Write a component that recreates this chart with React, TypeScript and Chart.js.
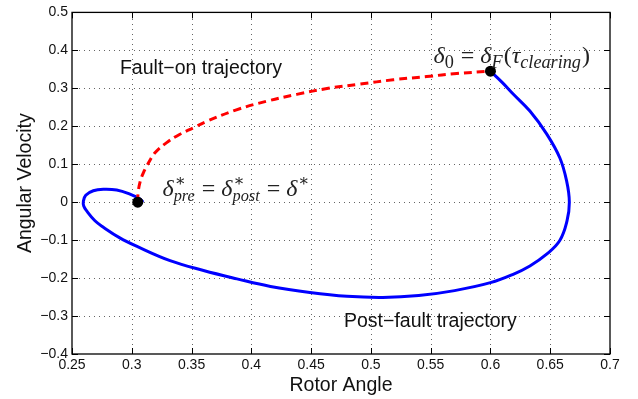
import React, { useEffect, useRef } from 'react';
import { Chart, registerables } from 'chart.js';

Chart.register(...registerables);

// ---- data ----
const faultOnAngle = [0.305, 0.3053, 0.307, 0.3095, 0.3125, 0.3194, 0.3292, 0.3403, 0.3515, 0.3612, 0.3863, 0.4128, 0.438, 0.4644, 0.4909, 0.5187, 0.5467, 0.5718, 0.6];
const faultOnSpeed = [0.0, 0.025, 0.054, 0.076, 0.095, 0.13, 0.157, 0.179, 0.196, 0.211, 0.242, 0.266, 0.284, 0.3, 0.311, 0.3225, 0.331, 0.339, 0.345];

const postFaultAngle = [0.6, 0.61, 0.619, 0.633, 0.647, 0.658, 0.6637, 0.666, 0.664, 0.658, 0.647, 0.633, 0.619, 0.6, 0.57, 0.54, 0.51, 0.48, 0.449, 0.416, 0.388, 0.36, 0.332, 0.304, 0.29, 0.2762, 0.2692, 0.2623, 0.2598, 0.2595, 0.2615, 0.2678, 0.2762, 0.2874, 0.2985, 0.3069, 0.3096];
const postFaultSpeed = [0.345, 0.315, 0.285, 0.24, 0.18, 0.117, 0.056, 0.0, -0.05, -0.101, -0.137, -0.168, -0.19, -0.212, -0.233, -0.246, -0.251, -0.248, -0.238, -0.222, -0.202, -0.18, -0.154, -0.116, -0.094, -0.066, -0.049, -0.023, -0.01, 0.002, 0.018, 0.03, 0.034, 0.032, 0.021, 0.008, 0.0];

const markerAngle = [0.305, 0.6];
const markerSpeed = [0.0, 0.345];

const xTickValues = [0.25, 0.3, 0.35, 0.4, 0.45, 0.5, 0.55, 0.6, 0.65, 0.7];
const yTickValues = [-0.4, -0.3, -0.2, -0.1, 0, 0.1, 0.2, 0.3, 0.4, 0.5];

const xTitle = 'Rotor Angle';
const yTitle = 'Angular Velocity';

// plain text annotations: [text, x, y] in data units (left edge, vertical middle)
const textNotes: [string, number, number][] = [
  ['Fault\u2212on trajectory', 0.2901, 0.353],
  ['Post\u2212fault trajectory', 0.4775, -0.316],
];

type MathPart = { t: string; up?: boolean; sup?: string; sub?: string; subUp?: boolean };
const mathPre: MathPart[] = [
  { t: '\u03b4', sup: '\u2217', sub: 'pre' },
  { t: ' = ', up: true },
  { t: '\u03b4', sup: '\u2217', sub: 'post' },
  { t: ' = ', up: true },
  { t: '\u03b4', sup: '\u2217' },
];
const mathClear: MathPart[] = [
  { t: '\u03b4', sub: '0', subUp: true },
  { t: ' = ', up: true },
  { t: '\u03b4', sub: 'F' },
  { t: '(', up: true },
  { t: '\u03c4', sub: 'clearing' },
  { t: ')', up: true },
];
// math annotations: [parts, x, baseline y, script scale] in data units
const mathNotes: [MathPart[], number, number, number][] = [
  [mathPre, 0.3257, 0.0168, 0.68],
  [mathClear, 0.5524, 0.3663, 0.76],
];

const SANS = '"Liberation Sans", Arial, Helvetica, sans-serif';
const SERIF = '"Liberation Serif", "DejaVu Serif", serif';

function fmt(v: number): string {
  const s = String(Number(v.toFixed(2)));
  return s.replace('-', '\u2212');
}

function drawMath(ctx: CanvasRenderingContext2D, x: number, y: number, parts: MathPart[], size: number, scriptScale: number) {
  const small = size * scriptScale;
  let cx = x;
  ctx.textBaseline = 'alphabetic';
  ctx.textAlign = 'left';
  for (const p of parts) {
    ctx.font = `${p.up ? '' : 'italic '}${size}px ${SERIF}`;
    ctx.fillText(p.t, cx, y);
    cx += ctx.measureText(p.t).width;
    let w = 0;
    if (p.sup) {
      ctx.font = `${small}px "DejaVu Serif", serif`;
      ctx.fillText(p.sup, cx + 1, y - size * 0.42);
      w = Math.max(w, ctx.measureText(p.sup).width + 1);
    }
    if (p.sub) {
      ctx.font = `${p.subUp ? '' : 'italic '}${small}px ${SERIF}`;
      ctx.fillText(p.sub, cx, y + size * 0.22);
      w = Math.max(w, ctx.measureText(p.sub).width);
    }
    cx += w + (p.sub || p.sup ? 1 : 0);
  }
}

const gridPlugin = {
  id: 'dottedGrid',
  beforeDatasetsDraw(chart: any) {
    const { ctx, chartArea: a, scales } = chart;
    ctx.save();
    ctx.fillStyle = '#666';
    const step = 5;
    for (const v of xTickValues) {
      const px = Math.round(scales.x.getPixelForValue(v));
      if (px <= a.left + 1 || px >= a.right - 1) continue;
      for (let y = Math.round(a.top) + 2; y < a.bottom - 1; y += step) ctx.fillRect(px, y, 1, 1);
    }
    for (const v of yTickValues) {
      const py = Math.round(scales.y.getPixelForValue(v));
      if (py <= a.top + 1 || py >= a.bottom - 1) continue;
      for (let x = Math.round(a.left) + 2; x < a.right - 1; x += step) ctx.fillRect(x, py, 1, 1);
    }
    ctx.restore();
  },
};

const decorPlugin = {
  id: 'decor',
  afterDraw(chart: any) {
    const { ctx, chartArea: a, scales } = chart;
    const xs = scales.x;
    const ys = scales.y;
    ctx.save();
    ctx.strokeStyle = '#000';
    ctx.lineWidth = 1.3;
    ctx.setLineDash([]);
    ctx.strokeRect(a.left, a.top, a.right - a.left, a.bottom - a.top);
    const tl = 6;
    ctx.lineWidth = 1;
    ctx.beginPath();
    for (const v of xTickValues) {
      const px = Math.round(xs.getPixelForValue(v)) + 0.5;
      ctx.moveTo(px, a.bottom);
      ctx.lineTo(px, a.bottom - tl);
      ctx.moveTo(px, a.top);
      ctx.lineTo(px, a.top + tl);
    }
    for (const v of yTickValues) {
      const py = Math.round(ys.getPixelForValue(v)) + 0.5;
      ctx.moveTo(a.left, py);
      ctx.lineTo(a.left + tl, py);
      ctx.moveTo(a.right, py);
      ctx.lineTo(a.right - tl, py);
    }
    ctx.stroke();
    ctx.fillStyle = '#111';
    ctx.font = `19.5px ${SANS}`;
    ctx.textAlign = 'left';
    ctx.textBaseline = 'middle';
    for (const [t, x, y] of textNotes) {
      ctx.fillText(t, xs.getPixelForValue(x), ys.getPixelForValue(y));
    }
    ctx.fillStyle = '#222';
    for (const [parts, x, y, sc] of mathNotes) {
      drawMath(ctx, xs.getPixelForValue(x), ys.getPixelForValue(y), parts, 24, sc);
    }
    ctx.restore();
  },
};

export default function App() {
  const ref = useRef<HTMLCanvasElement | null>(null);
  useEffect(() => {
    document.body.style.margin = '0';
    const canvas = ref.current;
    if (!canvas) return;
    const chart = new Chart(canvas, {
      type: 'scatter',
      data: {
        datasets: [
          {
            label: 'markers',
            data: markerAngle.map((x, i) => ({ x, y: markerSpeed[i] })),
            showLine: false,
            pointRadius: 5.5,
            pointBackgroundColor: '#000',
            pointBorderColor: '#000',
            pointBorderWidth: 0,
          },
          {
            label: 'Fault-on trajectory',
            data: faultOnAngle.map((x, i) => ({ x, y: faultOnSpeed[i] })),
            showLine: true,
            borderColor: '#ff0000',
            borderWidth: 3,
            borderDash: [8, 5],
            pointRadius: 0,
            tension: 0.4,
          },
          {
            label: 'Post-fault trajectory',
            data: postFaultAngle.map((x, i) => ({ x, y: postFaultSpeed[i] })),
            showLine: true,
            borderColor: '#0000ff',
            borderWidth: 3,
            pointRadius: 0,
            tension: 0.4,
          },
        ],
      },
      options: {
        responsive: false,
        animation: false,
        layout: { padding: { top: 11, right: 28, left: 0, bottom: 0 } },
        plugins: { legend: { display: false }, tooltip: { enabled: false } },
        scales: {
          x: {
            type: 'linear',
            min: 0.25,
            max: 0.7,
            afterBuildTicks: (s: any) => { s.ticks = xTickValues.map((value) => ({ value })); },
            afterFit: (s: any) => { s.height = 45; },
            grid: { display: false, drawTicks: false },
            border: { display: false },
            ticks: {
              padding: 3,
              color: '#111',
              font: { family: SANS, size: 14 },
              maxRotation: 0,
              autoSkip: false,
              callback: (v: any) => fmt(Number(v)),
            },
            title: { display: true, text: xTitle, color: '#111', font: { family: SANS, size: 19.5 }, padding: { top: 0, bottom: 2 } },
          },
          y: {
            type: 'linear',
            min: -0.4,
            max: 0.5,
            afterBuildTicks: (s: any) => { s.ticks = yTickValues.map((value) => ({ value })); },
            afterFit: (s: any) => { s.width = 72; },
            grid: { display: false, drawTicks: false },
            border: { display: false },
            ticks: {
              padding: 4,
              color: '#111',
              font: { family: SANS, size: 14 },
              autoSkip: false,
              callback: (v: any) => fmt(Number(v)),
            },
            title: { display: true, text: yTitle, color: '#111', font: { family: SANS, size: 19.5 }, padding: { top: 13.5, bottom: 0 } },
          },
        },
      },
      plugins: [gridPlugin, decorPlugin],
    } as any);
    return () => chart.destroy();
  }, []);
  return (
    <div style={{ width: 638, height: 399, background: '#fff' }}>
      <canvas ref={ref} width={638} height={399} style={{ display: 'block' }} />
    </div>
  );
}
